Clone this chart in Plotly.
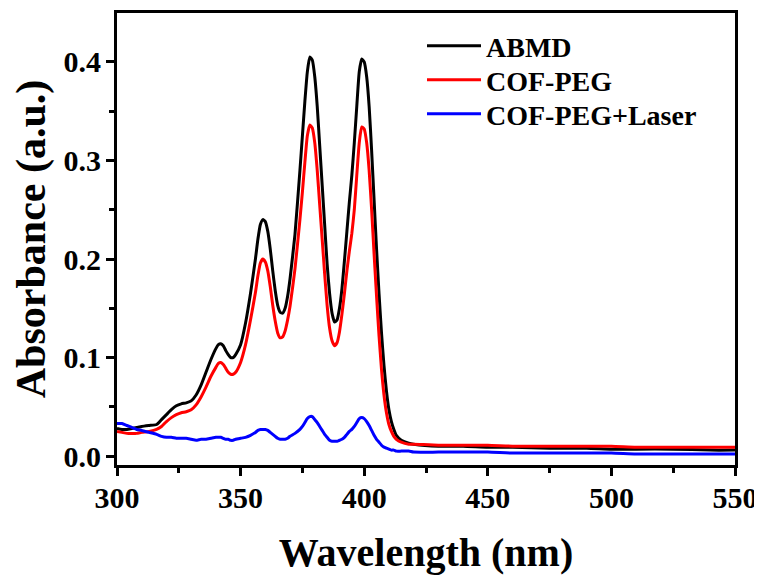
import plotly.graph_objects as go

wavelength = [300, 302, 304, 306, 308, 310, 313, 316, 318, 320, 322, 324, 326, 328, 330,
              332, 334, 336, 338, 340, 341, 342, 343, 344, 345, 346, 347, 348, 350, 352,
              354, 356, 357, 358, 359, 360, 361, 362, 363, 364, 365, 366, 367, 368, 369,
              370, 372, 374, 375, 376, 377, 378, 379, 380, 381, 382, 383, 384, 385, 386,
              387, 388, 389, 390, 391, 392, 393, 394, 395, 396, 397, 398, 399, 400, 401,
              402, 403, 404, 405, 406, 407, 408, 409, 410, 411, 412, 413, 415, 418, 420,
              430, 440, 450, 460, 475, 490, 500, 510, 525, 540, 550]

abmd = [0.028, 0.027, 0.027, 0.028, 0.029, 0.030, 0.031, 0.032, 0.037, 0.042, 0.047, 0.051, 0.053, 0.054, 0.056,
        0.062, 0.072, 0.085, 0.098, 0.109, 0.113, 0.114, 0.112, 0.107, 0.103, 0.100, 0.100, 0.103, 0.113, 0.135,
        0.165, 0.200, 0.220, 0.235, 0.240, 0.238, 0.228, 0.210, 0.188, 0.168, 0.153, 0.146, 0.145, 0.150, 0.162,
        0.180, 0.225, 0.290, 0.325, 0.360, 0.390, 0.405, 0.402, 0.385, 0.355, 0.315, 0.275, 0.235, 0.195, 0.165,
        0.145, 0.136, 0.138, 0.150, 0.170, 0.198, 0.228, 0.258, 0.285, 0.318, 0.355, 0.390, 0.403, 0.400, 0.385,
        0.355, 0.310, 0.260, 0.210, 0.165, 0.125, 0.092, 0.066, 0.047, 0.035, 0.027, 0.021, 0.016, 0.013, 0.012,
        0.010, 0.010, 0.009, 0.009, 0.008, 0.008, 0.007, 0.007, 0.007, 0.006, 0.006]

cof_peg = [0.025, 0.024, 0.023, 0.023, 0.023, 0.024, 0.025, 0.027, 0.030, 0.035, 0.039, 0.042, 0.044, 0.045, 0.047,
           0.052, 0.060, 0.070, 0.081, 0.090, 0.094, 0.095, 0.093, 0.089, 0.085, 0.083, 0.083, 0.085, 0.095, 0.113,
           0.138, 0.166, 0.183, 0.196, 0.200, 0.197, 0.188, 0.172, 0.153, 0.137, 0.125, 0.120, 0.121, 0.127, 0.138,
           0.152, 0.190, 0.240, 0.268, 0.298, 0.325, 0.336, 0.333, 0.318, 0.290, 0.255, 0.220, 0.185, 0.153, 0.130,
           0.117, 0.112, 0.115, 0.126, 0.144, 0.165, 0.188, 0.208, 0.226, 0.250, 0.285, 0.318, 0.334, 0.332, 0.318,
           0.290, 0.250, 0.205, 0.162, 0.122, 0.088, 0.062, 0.044, 0.032, 0.025, 0.020, 0.017, 0.014, 0.012, 0.012,
           0.011, 0.011, 0.011, 0.010, 0.010, 0.010, 0.010, 0.009, 0.009, 0.009, 0.009]

cof_peg_laser = [0.033, 0.033, 0.031, 0.029, 0.027, 0.026, 0.024, 0.022, 0.020, 0.019, 0.019, 0.018, 0.018, 0.018, 0.017,
                 0.016, 0.017, 0.017, 0.018, 0.019, 0.019, 0.019, 0.018, 0.017, 0.017, 0.016, 0.016, 0.017, 0.018, 0.019,
                 0.021, 0.024, 0.026, 0.027, 0.027, 0.027, 0.026, 0.024, 0.022, 0.020, 0.018, 0.017, 0.017, 0.017, 0.018,
                 0.020, 0.023, 0.027, 0.030, 0.034, 0.038, 0.040, 0.040, 0.037, 0.034, 0.030, 0.026, 0.022, 0.019, 0.016,
                 0.015, 0.015, 0.015, 0.016, 0.017, 0.019, 0.022, 0.025, 0.027, 0.030, 0.034, 0.038, 0.039, 0.038, 0.035,
                 0.031, 0.026, 0.021, 0.017, 0.014, 0.011, 0.009, 0.008, 0.007, 0.006, 0.006, 0.005, 0.005, 0.005, 0.004,
                 0.004, 0.004, 0.004, 0.003, 0.003, 0.003, 0.003, 0.002, 0.002, 0.002, 0.002]

series_names = ["ABMD", "COF-PEG", "COF-PEG+Laser"]
series_colors = ["#000000", "#ff0000", "#0000ff"]
x_ticks = [300, 350, 400, 450, 500, 550]
y_ticks = [0.0, 0.1, 0.2, 0.3, 0.4]

FONT = "Liberation Serif, Times New Roman, serif"

fig = go.Figure()
legend_ids = ["legend", "legend2", "legend3"]
for name, vals, col, lg in zip(series_names, [abmd, cof_peg, cof_peg_laser], series_colors, legend_ids):
    fig.add_trace(go.Scatter(x=wavelength, y=vals, mode="lines", name=name, legend=lg,
                             line=dict(color=col, width=3, shape="spline", smoothing=0.5)))

axis_common = dict(showline=True, linecolor="black", linewidth=3, mirror=True,
                   showgrid=False, zeroline=False, ticks="outside", ticklen=8,
                   tickwidth=2.5, tickcolor="black", automargin=False,
                   tickfont=dict(family=FONT, size=30, color="black", weight="bold"))

fig.update_xaxes(range=[300, 550], tickvals=x_ticks, ticktext=[str(v) for v in x_ticks],
                 minor=dict(ticks="outside", ticklen=5, tickwidth=2.5, tickcolor="black", dtick=25),
                 ticklabelstandoff=-4,
                 title=dict(text="Wavelength (nm)", standoff=25,
                            font=dict(family=FONT, size=40, color="black", weight="bold")),
                 **axis_common)
fig.update_yaxes(range=[-0.0091, 0.4497], tickvals=y_ticks, ticktext=[f"{v:.1f}" for v in y_ticks],
                 minor=dict(ticks="outside", ticklen=5, tickwidth=2.5, tickcolor="black", dtick=0.05, tick0=0),
                 ticklabelstandoff=-1,
                 title=dict(text="Absorbance (a.u.)", standoff=7,
                            font=dict(family=FONT, size=42, color="black", weight="bold")),
                 **axis_common)

# page has an 8px body margin; margins below compensate so the plot area lands at x 117-735, y 13-465
H = 452.0  # plot-area height in px
W = 618.0  # plot-area width in px
def leg(ypx):
    return dict(x=(422 - 117) / W, y=1 - (ypx - 13) / H, xanchor="left", yanchor="middle",
                bgcolor="rgba(0,0,0,0)", borderwidth=0, itemwidth=54,
                font=dict(family=FONT, size=28, color="black", weight="bold"))

fig.update_layout(
    width=762, height=575,
    margin=dict(l=109, r=35, t=5, b=118),
    paper_bgcolor="white", plot_bgcolor="white",
    showlegend=True,
    legend=leg(46), legend2=leg(80), legend3=leg(114),
)

fig.write_html("out.html")
